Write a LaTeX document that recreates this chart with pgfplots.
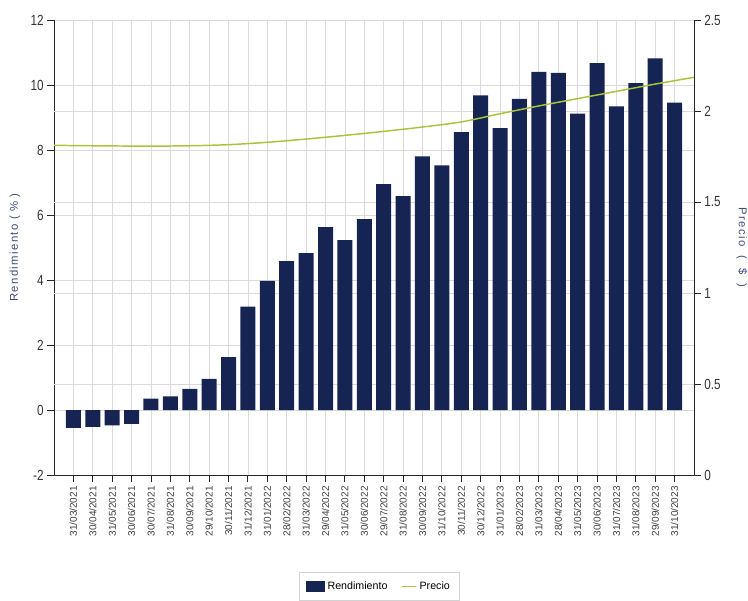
\documentclass[border=0pt]{standalone}
\usepackage{fontspec}
\setmainfont{Liberation Sans}
\newfontfamily\spaced[LetterSpace=12]{Liberation Sans}
\usepackage{pgfplots}
\pgfplotsset{compat=1.18}
\definecolor{barblue}{RGB}{22,36,84}
\definecolor{lineg}{RGB}{170,196,58}
\definecolor{gridc}{RGB}{218,218,218}
\definecolor{labc}{RGB}{60,76,125}

\begin{document}
\begin{tikzpicture}
\pgfplotsset{
  common/.style={
    width=480pt, height=341.25pt, scale only axis,
    xmin=-1, xmax=32,
    /pgf/number format/assume math mode=true,
    tick align=outside,
    major tick length=5pt,
    axis line style={-, black!85, line width=0.7pt},
    tick style={black!85, line width=0.7pt},
    yticklabel style={font=\fontsize{11}{11}\selectfont, text=black!80, xscale=0.8},
  }
}
% left axis: Rendimiento (bars)
\begin{axis}[common, name=main,
  ymin=-2, ymax=12, ytick={-2,0,2,4,6,8,10,12},
  axis y line*=left, axis x line*=bottom,
  xtick={0,...,31},
  xticklabels={31/03/2021,30/04/2021,31/05/2021,30/06/2021,30/07/2021,31/08/2021,30/09/2021,29/10/2021,30/11/2021,31/12/2021,31/01/2022,28/02/2022,31/03/2022,29/04/2022,31/05/2022,30/06/2022,29/07/2022,31/08/2022,30/09/2022,31/10/2022,30/11/2022,30/12/2022,31/01/2023,28/02/2023,31/03/2023,28/04/2023,31/05/2023,30/06/2023,31/07/2023,31/08/2023,29/09/2023,31/10/2023},
  xticklabel style={rotate=90, anchor=east, font=\fontsize{7.5}{7.5}\selectfont, text=black!75},
  grid=major, grid style={gridc, line width=0.6pt},
  extra y ticks={0.8,3.6,6.4,9.2}, extra y tick labels={},
  extra y tick style={grid=major, major tick length=0pt},
  ylabel={Rendimiento ( \% )},
  every axis y label/.style={at={(axis description cs:-0.061,0.5)}, rotate=90, anchor=center, font=\spaced\fontsize{8.5}{8.5}\selectfont, text=labc},
  ybar, bar width=11.25pt,
]
\addplot[fill=barblue, draw=none] coordinates {
(0,-0.55) (1,-0.52) (2,-0.47) (3,-0.43) (4,0.35) (5,0.42) (6,0.65) (7,0.96)
(8,1.63) (9,3.18) (10,3.97) (11,4.58) (12,4.83) (13,5.63) (14,5.23) (15,5.87)
(16,6.95) (17,6.58) (18,7.80) (19,7.53) (20,8.55) (21,9.68) (22,8.67) (23,9.57)
(24,10.40) (25,10.37) (26,9.12) (27,10.67) (28,9.34) (29,10.06) (30,10.82) (31,9.46)};
\end{axis}
% right axis: Precio (line)
\begin{axis}[common,
  ymin=0, ymax=2.5, ytick={0,0.5,1,1.5,2,2.5},
  axis y line*=right, axis x line=none, xtick=\empty,
  ylabel={Precio \ ( \ \$ \ )},
  every axis y label/.style={at={(axis description cs:1.075,0.5)}, rotate=-90, anchor=center, font=\spaced\fontsize{8.5}{8.5}\selectfont, text=labc},
  legend style={at={(0.508,-0.213)}, anchor=north, legend columns=2, draw=gray!35,
    font=\fontsize{8}{8}\selectfont, inner xsep=5pt, inner ysep=5pt,
    /tikz/every even column/.append style={column sep=8pt}},
]
\addlegendimage{legend image code/.code={\fill[barblue] (0pt,-3.6pt) rectangle (14pt,3.6pt);}}
\addlegendentry{Rendimiento}
\addplot[lineg, line width=1.1pt, smooth, mark=none,
  legend image code/.code={\draw[lineg, line width=1.1pt] (0pt,0pt) -- (11pt,0pt);}] coordinates {
(-1,1.812) (0,1.810) (2,1.808) (4,1.807) (6,1.809) (8,1.815) (10,1.828)
(12,1.846) (14,1.866) (16,1.888) (18,1.912) (20,1.940) (22,1.985) (24,2.028)
(26,2.068) (28,2.108) (30,2.148) (32,2.185)};
\addlegendentry{Precio}
\end{axis}
\pgfresetboundingbox
\path ([xshift=-40.5pt,yshift=-93.75pt]main.south west) rectangle ([xshift=40.5pt,yshift=15pt]main.north east);
\end{tikzpicture}
\end{document}
